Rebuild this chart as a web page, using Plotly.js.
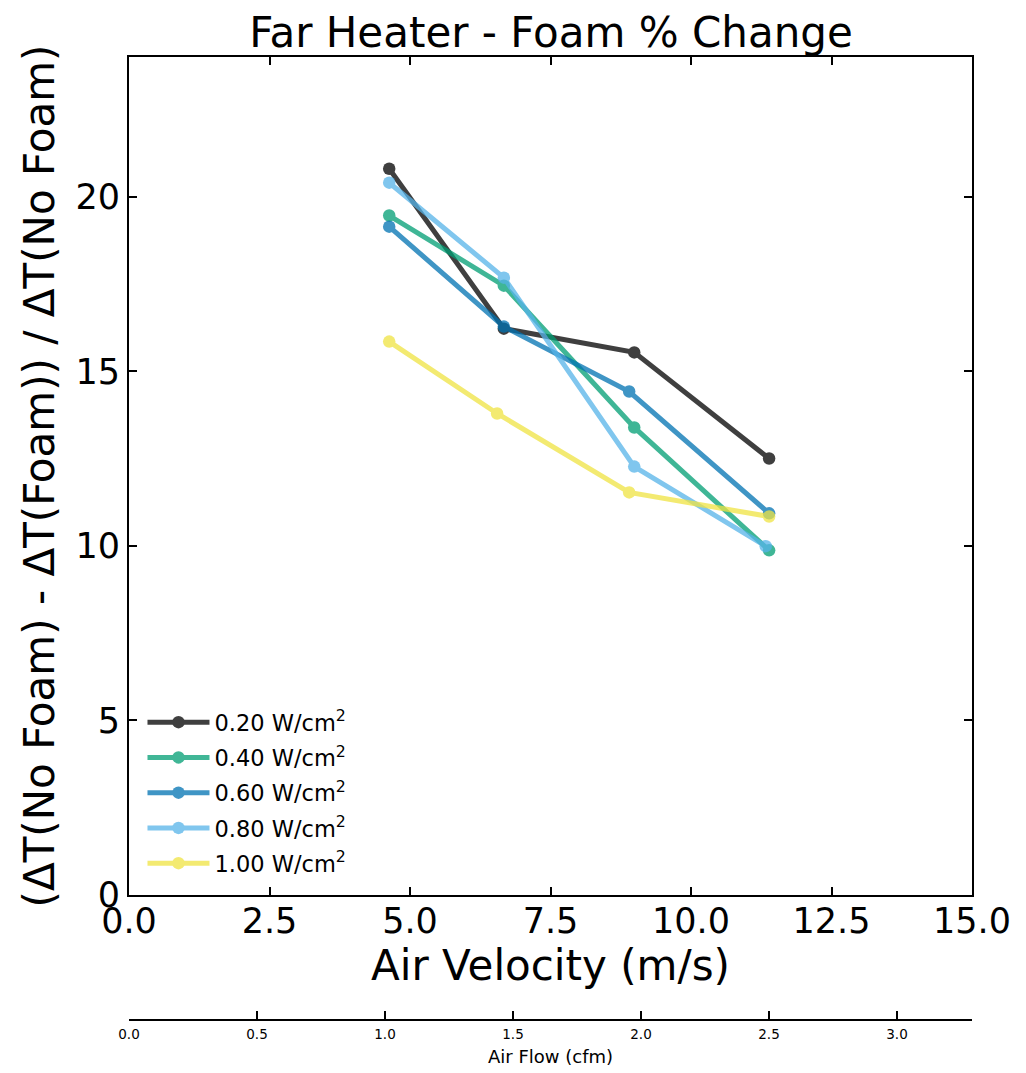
<!DOCTYPE html>
<html>
<head>
<meta charset="utf-8">
<script src="https://cdn.plot.ly/plotly-3.0.1.min.js"></script>
<style>html,body{margin:0;padding:0;background:#fff;}#chart{width:1026px;height:1073px;}</style>
</head>
<body>
<div id="chart"></div>
<script>
const seriesNames = ["0.20 W/cm<sup>2</sup>", "0.40 W/cm<sup>2</sup>", "0.60 W/cm<sup>2</sup>", "0.80 W/cm<sup>2</sup>", "1.00 W/cm<sup>2</sup>"];
const x020 = [4.63, 6.67, 8.99, 11.39];
const y020 = [20.80, 16.22, 15.54, 12.50];
const x040 = [4.63, 6.67, 8.99, 11.39];
const y040 = [19.46, 17.45, 13.39, 9.87];
const x060 = [4.63, 6.67, 8.90, 11.39];
const y060 = [19.14, 16.28, 14.42, 10.93];
const x080 = [4.63, 6.67, 8.99, 11.33];
const y080 = [20.40, 17.68, 12.27, 9.99];
const x100 = [4.63, 6.55, 8.90, 11.39];
const y100 = [15.85, 13.79, 11.53, 10.84];
const colors = ["#000000", "#009E73", "#0072B2", "#56B4E9", "#F0E442"];
const xs = [x020, x040, x060, x080, x100];
const ys = [y020, y040, y060, y080, y100];

const xTicks = [0, 2.5, 5, 7.5, 10, 12.5, 15];
const yTicks = [0, 5, 10, 15, 20];
const flowTicks = [0, 0.5, 1.0, 1.5, 2.0, 2.5, 3.0];

const font = "DejaVu Sans, sans-serif";
const traces = seriesNames.map((n, i) => ({
  x: xs[i], y: ys[i], name: n, type: 'scatter', mode: 'lines+markers',
  legendgroup: 'g' + i,
  line: {color: colors[i], width: 5},
  marker: {color: colors[i], size: 12.5},
  opacity: 0.75
}));
// invisible trace to anchor secondary (air flow) axis
traces.push({x: [flowTicks[0]], y: [null], xaxis: 'x2', yaxis: 'y', showlegend: false, hoverinfo: 'skip', mode: 'markers', marker: {opacity: 0}});

const H = 1073, T = 57, B = 20;
const ph = H - T - B;
const layout = {
  width: 1026, height: 1073,
  paper_bgcolor: '#fff', plot_bgcolor: '#fff',
  margin: {l: 129, r: 54, t: T, b: B},
  font: {family: font, color: '#000'},
  title: {text: "Far Heater - Foam % Change", font: {size: 42, family: font}, x: 0.537, xanchor: 'center', y: 1 - 32/H, yanchor: 'middle'},
  showlegend: true,
  legend: {x: 0.016, y: (H - B - 701)/ph, xanchor: 'left', yanchor: 'top', font: {size: 22.5, family: font}, bgcolor: 'rgba(0,0,0,0)', itemwidth: 62, tracegroupgap: 3},
  xaxis: {
    range: [0, 15], tickvals: xTicks, ticktext: xTicks.map(v => v.toFixed(1)),
    ticks: 'inside', ticklen: 8, tickwidth: 2, tickcolor: '#000',
    showline: true, linewidth: 2, linecolor: '#000', mirror: 'ticks',
    showgrid: false, zeroline: false, anchor: 'y',
    tickfont: {size: 35, family: font}, ticklabelstandoff: -6,
    title: {text: "Air Velocity (m/s)", font: {size: 42, family: font}, standoff: 1},
    automargin: false
  },
  yaxis: {
    domain: [(H - B - T - (895 - T)) / ph, 1],
    range: [0, 24], tickvals: yTicks,
    ticks: 'inside', ticklen: 8, tickwidth: 2, tickcolor: '#000',
    showline: true, linewidth: 2, linecolor: '#000', mirror: 'ticks',
    showgrid: false, zeroline: false,
    tickfont: {size: 35, family: font},
    title: {text: "(ΔT(No Foam) - ΔT(Foam)) / ΔT(No Foam)", font: {size: 42, family: font}, standoff: 8},
    automargin: false
  },
  xaxis2: {
    overlaying: 'x', anchor: 'free', position: (H - B - 1020) / ph, side: 'bottom',
    range: [0, 3.293], tickvals: flowTicks, ticktext: flowTicks.map(v => v.toFixed(1)),
    ticks: 'inside', ticklen: 8, tickwidth: 2, tickcolor: '#000',
    showline: true, linewidth: 2, linecolor: '#000',
    showgrid: false, zeroline: false,
    tickfont: {size: 13.5, family: font}, ticklabelstandoff: 2,
    title: {text: "Air Flow (cfm)", font: {size: 18, family: font}, standoff: 8},
    automargin: false
  }
};
Plotly.newPlot('chart', traces, layout, {displayModeBar: false, staticPlot: true});
</script>
</body>
</html>
